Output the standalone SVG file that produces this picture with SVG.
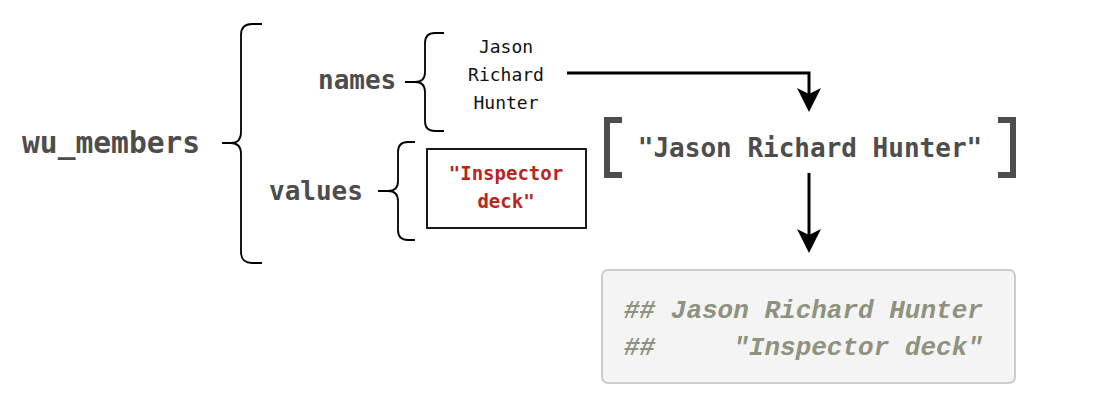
<svg xmlns="http://www.w3.org/2000/svg" width="1112" height="412" viewBox="0 0 1112 412">
<defs>
<style>
.lbl{font-family:"DejaVu Sans Mono","Liberation Mono",monospace;font-weight:bold;fill:#4d4d4d}
.nm{font-family:"DejaVu Sans Mono","Liberation Mono",monospace;font-size:18px;fill:#111;text-anchor:middle}
.val{font-family:"DejaVu Sans Mono","Liberation Mono",monospace;font-size:19px;font-weight:bold;fill:#b8261e;text-anchor:middle}
.brace{fill:none;stroke:#000;stroke-width:1.8}
.conn{fill:none;stroke:#000;stroke-width:3}
.out{font-family:"Liberation Mono","Courier New",monospace;font-size:26px;font-weight:bold;font-style:italic;fill:#8f927f;white-space:pre}
</style>
<marker id="ah" viewBox="0 0 24 24" markerWidth="24" markerHeight="24" refX="12" refY="12" orient="0" markerUnits="userSpaceOnUse">
<path d="M0,0 L12,6 L24,0 L12,24 Z" fill="#000"/>
</marker>
</defs>
<rect width="1112" height="412" fill="#fff"/>
<g id="wu_members">
<text class="lbl" x="22" y="153" font-size="29.6">wu_members</text>
<path class="brace" d="M262,24 H252 Q241,24 241,35 V132 Q241,143 231,143 H222 M231,143 Q241,143 241,154 V252 Q241,263 252,263 H262"/>
</g>
<g id="names">
<text class="lbl" x="318" y="89" font-size="26">names</text>
<path class="brace" d="M444,33 H435 Q425,33 425,43 V72 Q425,82 415,82 H405 M415,82 Q425,82 425,92 V121 Q425,131 435,131 H444"/>
</g>
<g id="names_items">
<text class="nm" x="506" y="53">Jason</text>
<text class="nm" x="506" y="81">Richard</text>
<text class="nm" x="506" y="109">Hunter</text>
</g>
<g id="values">
<text class="lbl" x="269" y="200" font-size="26">values</text>
<path class="brace" d="M415,142 H408 Q398,142 398,152 V181 Q398,191 388,191 H378 M388,191 Q398,191 398,201 V230 Q398,240 408,240 H415"/>
</g>
<g id="values_box">
<rect x="427" y="149" width="159" height="79" fill="#fff" stroke="#000" stroke-width="1.8"/>
<text class="val" x="506" y="180">"Inspector</text>
<text class="val" x="506" y="208">deck"</text>
</g>
<g id="vector">
<path d="M622,120 H607 V175 H622" fill="none" stroke="#4d4d4d" stroke-width="6"/>
<path d="M998,120 H1013 V175 H998" fill="none" stroke="#4d4d4d" stroke-width="6"/>
<text class="lbl" x="810" y="157" font-size="26" text-anchor="middle">"Jason Richard Hunter"</text>
</g>
<g id="output">
<rect x="602" y="270" width="413" height="113" rx="6" fill="#f4f4f4" stroke="#cccccc" stroke-width="2"/>
<text class="out" x="624" y="318" xml:space="preserve">## Jason Richard Hunter</text>
<text class="out" x="624" y="355" xml:space="preserve">##     "Inspector deck"</text>
</g>
<g id="connectors">
<path class="conn" d="M567,73 H809 V100" marker-end="url(#ah)"/>
<path class="conn" d="M809,173 V241" marker-end="url(#ah)"/>
</g>
</svg>
